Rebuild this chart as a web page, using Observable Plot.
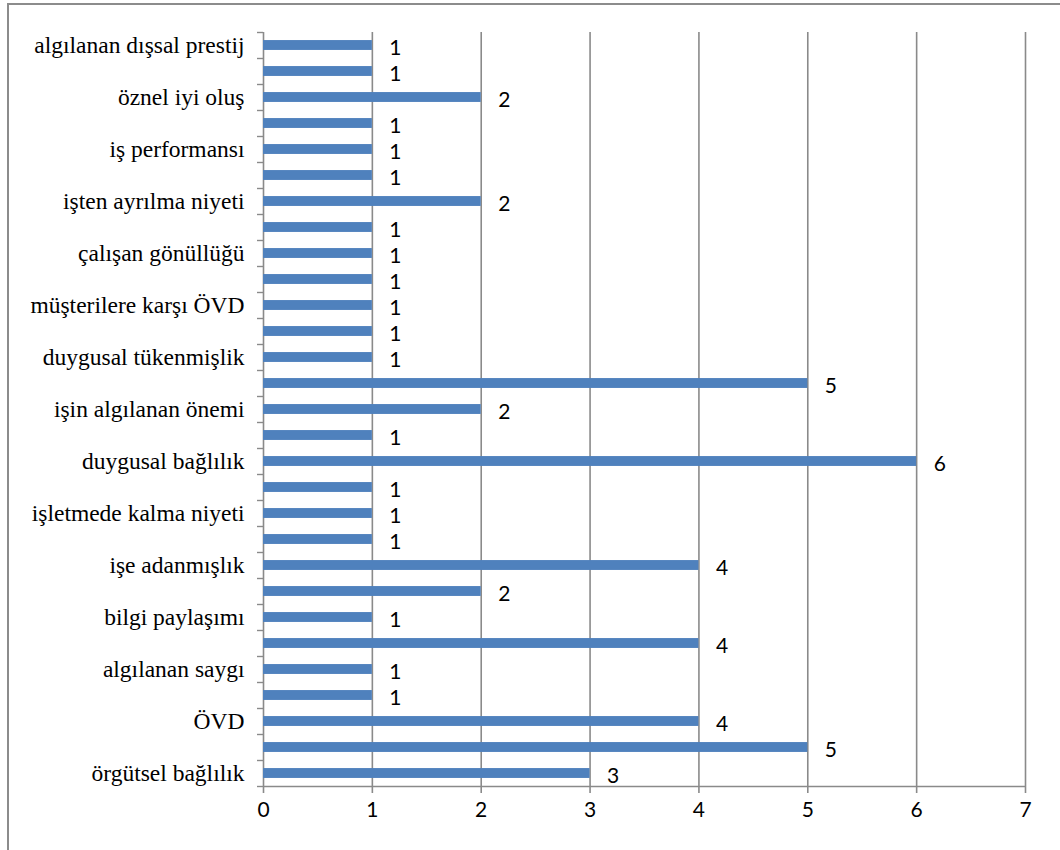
<!DOCTYPE html>
<html>
<head>
<meta charset="utf-8">
<script src="https://cdn.jsdelivr.net/npm/d3@7"></script>
<script src="https://cdn.jsdelivr.net/npm/@observablehq/plot@0.6"></script>
<style>
  html, body { margin: 0; padding: 0; background: #fff; }
  #wrap { position: relative; width: 1060px; height: 850px; overflow: hidden; }
  #frame { position: absolute; left: 7px; top: 3px; width: 1070px; height: 870px;
           border-left: 2px solid #8c8c8c; border-top: 2px solid #8c8c8c; }
  #chart { position: absolute; left: 0; top: 0; }
</style>
</head>
<body>
<div id="wrap"><div id="frame"></div><div id="chart"></div></div>
<script>
const labels = [
  "algılanan dışsal prestij", "", "öznel iyi oluş", "", "iş performansı", "",
  "işten ayrılma niyeti", "", "çalışan gönüllüğü", "", "müşterilere karşı ÖVD", "",
  "duygusal tükenmişlik", "", "işin algılanan önemi", "", "duygusal bağlılık", "",
  "işletmede kalma niyeti", "", "işe adanmışlık", "", "bilgi paylaşımı", "",
  "algılanan saygı", "", "ÖVD", "", "örgütsel bağlılık"
];
const values = [1,1,2,1,1,1,2,1,1,1,1,1,1,5,2,1,6,1,1,1,4,2,1,4,1,1,4,5,3];
const xTicks = [0,1,2,3,4,5,6,7];

const data = values.map((v, i) => ({i, v, label: labels[i]}));
const n = values.length;
const half = 0.19;
const gray = "#8a8a8a";

const chart = Plot.plot({
  width: 1060,
  height: 850,
  marginLeft: 263,
  marginRight: 35,
  marginTop: 32,
  marginBottom: 64,
  style: {fontFamily: "Lato", fontSize: "21px", color: "black", background: "transparent", overflow: "visible"},
  x: {domain: [0, 7]},
  y: {domain: [n - 0.5, -0.5]},
  marks: [
    Plot.ruleX(xTicks, {stroke: gray, strokeWidth: 1.6}),
    Plot.ruleY([n - 0.5], {x1: 0, x2: 7, stroke: gray, strokeWidth: 1.6}),
    Plot.rect(data, {x1: 0, x2: "v", y1: d => d.i - half, y2: d => d.i + half, fill: "#4F81BD"}),
    Plot.text(data, {x: "v", y: "i", text: d => String(d.v), dx: 17, dy: 3, textAnchor: "start",
      fontFamily: "Lato", fontSize: 21, fill: "black"}),
    Plot.axisY(d3.range(-0.5, n, 1), {tickSize: 6, tickFormat: () => "", stroke: gray, strokeWidth: 1.4, label: null}),
    Plot.axisY(d3.range(0, n), {tickSize: 0, tickPadding: 19, tickFormat: i => labels[i],
      fontFamily: "Liberation Serif", fontSize: 23.5, fill: "black", label: null}),
    Plot.axisX(xTicks, {tickSize: 7, tickPadding: 9, stroke: gray, strokeWidth: 1.6,
      fontFamily: "Lato", fontSize: 21, fill: "black", label: null, tickFormat: d => String(d)})
  ]
});
document.getElementById("chart").appendChild(chart);
</script>
</body>
</html>
